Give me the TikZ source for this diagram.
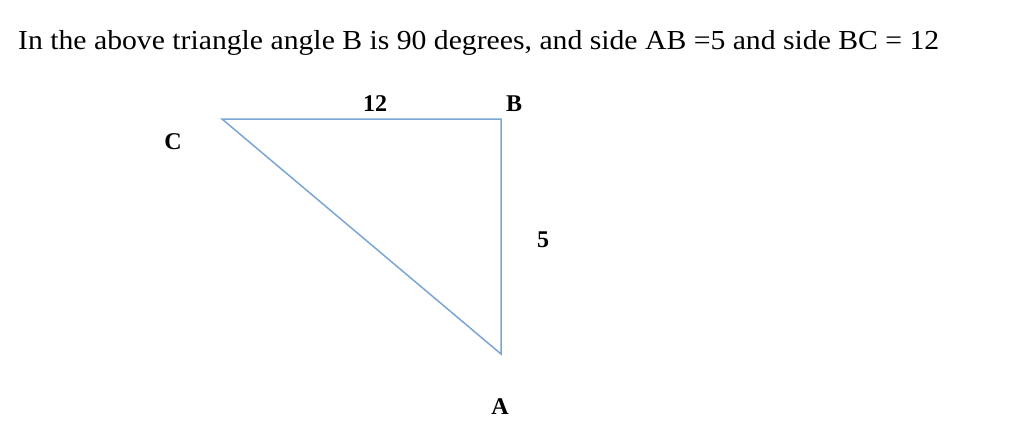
\documentclass[tikz,border=0pt]{standalone}
\usepackage{fontspec}
\setmainfont{Liberation Serif}
\begin{document}
\begin{tikzpicture}[x=1pt,y=-1pt,
  side/.style={draw={rgb,255:red,122;green,166;blue,212},line width=1.5pt,line join=miter},
  vlabel/.style={font=\fontsize{24}{26}\selectfont\bfseries,inner sep=0pt},
  title/.style={font=\fontsize{27.5}{30}\selectfont,inner sep=0pt,anchor=base west,xscale=1.08}]
\useasboundingbox (0,0) rectangle (1016,440);
\node[title] (t) at (18,49) {In the above triangle angle B is 90 degrees, and side AB =5 and side BC = 12};
\coordinate (C) at (222,119);
\coordinate (B) at (501,119);
\coordinate (A) at (501,354);
\draw[side] (C) -- (B) -- (A) -- cycle;
\node[vlabel] (l12) at (375,104) {12};
\node[vlabel] (lB) at (514,104) {B};
\node[vlabel] (lC) at (173,142) {C};
\node[vlabel] (l5) at (543,240) {5};
\node[vlabel] (lA) at (500,407) {A};
\end{tikzpicture}
\end{document}
